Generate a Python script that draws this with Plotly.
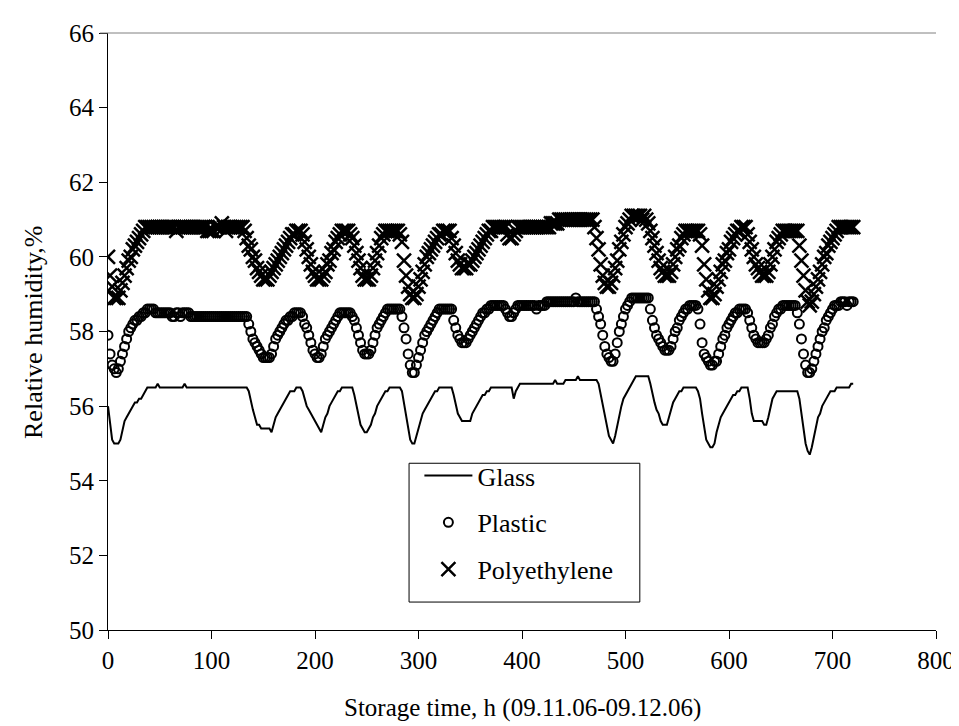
import plotly.graph_objects as go

# storage time, h (one reading every 2 h)
hours = list(range(0, 721, 2))

glass = [
    56.0, 55.5, 55.1, 55.0, 55.0, 55.0, 55.1, 55.4, 55.6, 55.7,
    55.8, 55.9, 56.0, 56.1, 56.1, 56.2, 56.2, 56.3, 56.4, 56.5,
    56.5, 56.5, 56.5, 56.5, 56.6, 56.5, 56.5, 56.5, 56.5, 56.5,
    56.5, 56.5, 56.5, 56.5, 56.5, 56.5, 56.5, 56.6, 56.5, 56.5,
    56.5, 56.5, 56.5, 56.5, 56.5, 56.5, 56.5, 56.5, 56.5, 56.5,
    56.5, 56.5, 56.5, 56.5, 56.5, 56.5, 56.5, 56.5, 56.5, 56.5,
    56.5, 56.5, 56.5, 56.5, 56.5, 56.5, 56.5, 56.5, 56.4, 56.1,
    55.9, 55.7, 55.5, 55.5, 55.4, 55.4, 55.4, 55.4, 55.4, 55.3,
    55.5, 55.7, 55.8, 55.9, 56.0, 56.1, 56.2, 56.3, 56.4, 56.4,
    56.4, 56.5, 56.5, 56.5, 56.4, 56.2, 56.0, 55.9, 55.8, 55.7,
    55.6, 55.5, 55.4, 55.3, 55.5, 55.7, 55.8, 56.0, 56.1, 56.2,
    56.3, 56.4, 56.4, 56.5, 56.5, 56.5, 56.5, 56.5, 56.5, 56.3,
    56.0, 55.7, 55.5, 55.4, 55.3, 55.3, 55.4, 55.5, 55.7, 55.8,
    56.0, 56.1, 56.2, 56.3, 56.4, 56.4, 56.5, 56.5, 56.5, 56.5,
    56.5, 56.5, 56.4, 56.1, 55.7, 55.4, 55.1, 55.0, 55.0, 55.2,
    55.4, 55.6, 55.8, 55.9, 56.0, 56.1, 56.2, 56.3, 56.4, 56.4,
    56.5, 56.5, 56.5, 56.5, 56.5, 56.5, 56.5, 56.3, 56.0, 55.8,
    55.7, 55.6, 55.6, 55.6, 55.6, 55.6, 55.8, 55.9, 56.0, 56.1,
    56.2, 56.3, 56.3, 56.4, 56.4, 56.5, 56.5, 56.5, 56.5, 56.5,
    56.5, 56.5, 56.5, 56.5, 56.5, 56.5, 56.2, 56.4, 56.5, 56.6,
    56.6, 56.6, 56.6, 56.6, 56.6, 56.6, 56.6, 56.6, 56.6, 56.6,
    56.6, 56.6, 56.6, 56.6, 56.6, 56.6, 56.7, 56.6, 56.6, 56.6,
    56.6, 56.7, 56.7, 56.7, 56.7, 56.7, 56.7, 56.8, 56.7, 56.7,
    56.7, 56.7, 56.7, 56.7, 56.7, 56.7, 56.7, 56.6, 56.3, 56.0,
    55.7, 55.4, 55.2, 55.1, 55.0, 55.2, 55.5, 55.8, 56.0, 56.2,
    56.3, 56.4, 56.5, 56.6, 56.7, 56.8, 56.8, 56.8, 56.8, 56.8,
    56.8, 56.8, 56.6, 56.3, 56.1, 55.9, 55.8, 55.6, 55.5, 55.5,
    55.5, 55.7, 55.9, 56.1, 56.2, 56.3, 56.4, 56.4, 56.5, 56.5,
    56.5, 56.5, 56.5, 56.5, 56.5, 56.4, 56.2, 55.8, 55.4, 55.1,
    55.0, 54.9, 54.9, 55.0, 55.3, 55.5, 55.7, 55.8, 55.9, 56.0,
    56.1, 56.2, 56.3, 56.3, 56.4, 56.4, 56.5, 56.5, 56.5, 56.5,
    56.2, 55.8, 55.6, 55.6, 55.6, 55.6, 55.6, 55.5, 55.5, 55.7,
    56.0, 56.2, 56.3, 56.4, 56.4, 56.4, 56.4, 56.4, 56.4, 56.4,
    56.4, 56.4, 56.4, 56.4, 56.2, 55.8, 55.4, 55.0, 54.8, 54.7,
    54.9, 55.2, 55.5, 55.7, 55.8, 56.0, 56.1, 56.2, 56.3, 56.4,
    56.4, 56.4, 56.5, 56.5, 56.5, 56.5, 56.5, 56.5, 56.5, 56.6,
    56.6,
]

plastic = [
    57.9, 57.4, 57.1, 57.0, 56.9, 57.0, 57.2, 57.4, 57.6, 57.8,
    58.0, 58.1, 58.2, 58.3, 58.3, 58.4, 58.4, 58.5, 58.5, 58.6,
    58.6, 58.6, 58.6, 58.5, 58.5, 58.5, 58.5, 58.5, 58.5, 58.5,
    58.5, 58.4, 58.4, 58.5, 58.5, 58.4, 58.5, 58.5, 58.5, 58.5,
    58.4, 58.4, 58.4, 58.4, 58.4, 58.4, 58.4, 58.4, 58.4, 58.4,
    58.4, 58.4, 58.4, 58.4, 58.4, 58.4, 58.4, 58.4, 58.4, 58.4,
    58.4, 58.4, 58.4, 58.4, 58.4, 58.4, 58.4, 58.4, 58.2, 58.0,
    57.8, 57.7, 57.6, 57.5, 57.4, 57.3, 57.3, 57.3, 57.3, 57.4,
    57.6, 57.8, 57.9, 58.0, 58.1, 58.2, 58.3, 58.3, 58.4, 58.4,
    58.5, 58.5, 58.5, 58.5, 58.4, 58.2, 58.1, 57.9, 57.7, 57.5,
    57.4, 57.3, 57.3, 57.4, 57.6, 57.8, 57.9, 58.0, 58.1, 58.2,
    58.3, 58.4, 58.5, 58.5, 58.5, 58.5, 58.5, 58.5, 58.4, 58.3,
    58.1, 57.9, 57.7, 57.5, 57.4, 57.4, 57.4, 57.5, 57.7, 57.9,
    58.1, 58.2, 58.3, 58.4, 58.5, 58.6, 58.6, 58.6, 58.6, 58.6,
    58.6, 58.6, 58.4, 58.1, 57.8, 57.4, 57.1, 56.9, 56.9, 57.1,
    57.3, 57.5, 57.7, 57.9, 58.0, 58.1, 58.2, 58.3, 58.4, 58.5,
    58.6, 58.6, 58.6, 58.6, 58.6, 58.6, 58.6, 58.3, 58.1, 57.9,
    57.8, 57.7, 57.7, 57.7, 57.8, 57.9, 58.0, 58.1, 58.2, 58.3,
    58.4, 58.5, 58.5, 58.6, 58.6, 58.7, 58.7, 58.7, 58.7, 58.7,
    58.7, 58.7, 58.6, 58.5, 58.4, 58.4, 58.5, 58.6, 58.7, 58.7,
    58.7, 58.7, 58.7, 58.7, 58.7, 58.7, 58.7, 58.6, 58.7, 58.7,
    58.7, 58.7, 58.8, 58.8, 58.8, 58.8, 58.8, 58.8, 58.8, 58.8,
    58.8, 58.8, 58.8, 58.8, 58.8, 58.8, 58.9, 58.8, 58.8, 58.8,
    58.8, 58.8, 58.8, 58.8, 58.8, 58.8, 58.6, 58.4, 58.2, 57.9,
    57.6, 57.4, 57.3, 57.2, 57.2, 57.4, 57.7, 58.0, 58.2, 58.4,
    58.6, 58.7, 58.8, 58.9, 58.9, 58.9, 58.9, 58.9, 58.9, 58.9,
    58.9, 58.9, 58.6, 58.3, 58.1, 57.9, 57.8, 57.7, 57.6, 57.5,
    57.5, 57.5, 57.6, 57.8, 58.0, 58.1, 58.3, 58.4, 58.5, 58.6,
    58.6, 58.7, 58.7, 58.7, 58.7, 58.6, 58.2, 57.7, 57.4, 57.3,
    57.2, 57.1, 57.1, 57.2, 57.2, 57.4, 57.6, 57.8, 57.9, 58.1,
    58.2, 58.3, 58.4, 58.5, 58.5, 58.6, 58.6, 58.6, 58.6, 58.5,
    58.3, 58.1, 57.9, 57.8, 57.7, 57.7, 57.7, 57.7, 57.8, 57.9,
    58.1, 58.2, 58.4, 58.5, 58.6, 58.6, 58.7, 58.7, 58.7, 58.7,
    58.7, 58.7, 58.7, 58.5, 58.2, 57.8, 57.4, 57.1, 56.9, 56.9,
    57.0, 57.2, 57.4, 57.6, 57.8, 58.0, 58.1, 58.3, 58.4, 58.5,
    58.6, 58.7, 58.7, 58.7, 58.8, 58.8, 58.8, 58.7, 58.8, 58.8,
    58.8,
]

polyethylene = [
    60.0, 59.5, 59.2, 58.9, 58.9, 58.9, 59.1, 59.3, 59.5, 59.7,
    59.9, 60.0, 60.2, 60.3, 60.4, 60.5, 60.6, 60.7, 60.8, 60.8,
    60.8, 60.8, 60.8, 60.8, 60.8, 60.8, 60.8, 60.8, 60.8, 60.8,
    60.8, 60.8, 60.8, 60.7, 60.8, 60.8, 60.8, 60.8, 60.8, 60.8,
    60.8, 60.8, 60.8, 60.8, 60.8, 60.8, 60.8, 60.8, 60.7, 60.7,
    60.7, 60.7, 60.8, 60.8, 60.8, 60.9, 60.8, 60.7, 60.8, 60.8,
    60.8, 60.8, 60.8, 60.8, 60.8, 60.8, 60.7, 60.5, 60.3, 60.2,
    60.0, 59.9, 59.7, 59.6, 59.5, 59.4, 59.4, 59.4, 59.5, 59.6,
    59.7, 59.8, 59.9, 60.0, 60.1, 60.2, 60.3, 60.4, 60.5, 60.6,
    60.6, 60.7, 60.7, 60.7, 60.6, 60.4, 60.2, 60.0, 59.8, 59.6,
    59.5, 59.4, 59.4, 59.4, 59.5, 59.6, 59.8, 59.9, 60.1, 60.2,
    60.4, 60.5, 60.6, 60.7, 60.7, 60.7, 60.7, 60.6, 60.5, 60.3,
    60.1, 59.9, 59.7, 59.5, 59.4, 59.4, 59.4, 59.5, 59.7, 59.9,
    60.1, 60.3, 60.5, 60.6, 60.7, 60.7, 60.7, 60.7, 60.7, 60.7,
    60.7, 60.6, 60.4, 59.9, 59.5, 59.2, 59.0, 58.9, 58.9, 59.0,
    59.2, 59.4, 59.6, 59.8, 60.0, 60.1, 60.2, 60.3, 60.4, 60.5,
    60.6, 60.6, 60.7, 60.7, 60.7, 60.7, 60.5, 60.3, 60.1, 59.9,
    59.8, 59.7, 59.7, 59.7, 59.8, 59.8, 59.9, 60.0, 60.1, 60.2,
    60.3, 60.4, 60.5, 60.6, 60.7, 60.7, 60.8, 60.8, 60.8, 60.8,
    60.8, 60.8, 60.8, 60.6, 60.5, 60.5, 60.6, 60.7, 60.8, 60.8,
    60.8, 60.8, 60.8, 60.8, 60.8, 60.8, 60.8, 60.8, 60.8, 60.8,
    60.8, 60.8, 60.8, 60.8, 60.9, 60.9, 60.9, 60.9, 61.0, 61.0,
    61.0, 61.0, 61.0, 61.0, 61.0, 61.0, 61.0, 61.0, 61.0, 61.0,
    61.0, 61.0, 61.0, 61.0, 61.0, 60.8, 60.5, 60.2, 59.8, 59.5,
    59.3, 59.2, 59.2, 59.3, 59.5, 59.7, 59.9, 60.2, 60.4, 60.6,
    60.8, 60.9, 61.0, 61.1, 61.1, 61.1, 61.1, 61.1, 61.0, 61.1,
    61.0, 60.9, 60.7, 60.5, 60.3, 60.1, 59.9, 59.7, 59.6, 59.5,
    59.5, 59.5, 59.6, 59.8, 60.0, 60.2, 60.3, 60.5, 60.6, 60.7,
    60.7, 60.7, 60.7, 60.7, 60.7, 60.7, 60.6, 60.3, 59.8, 59.4,
    59.1, 58.9, 58.9, 59.0, 59.2, 59.4, 59.6, 59.8, 59.9, 60.1,
    60.2, 60.4, 60.5, 60.6, 60.7, 60.7, 60.8, 60.8, 60.8, 60.6,
    60.4, 60.2, 60.0, 59.8, 59.7, 59.6, 59.5, 59.5, 59.5, 59.6,
    59.8, 60.0, 60.2, 60.4, 60.5, 60.6, 60.7, 60.7, 60.7, 60.7,
    60.7, 60.7, 60.7, 60.7, 60.3, 59.9, 59.5, 59.1, 58.8, 58.7,
    58.8, 59.0, 59.2, 59.4, 59.6, 59.8, 60.0, 60.1, 60.3, 60.4,
    60.5, 60.6, 60.7, 60.8, 60.8, 60.8, 60.8, 60.8, 60.8, 60.8,
    60.8,
]

FONT = "Times New Roman, Liberation Serif, serif"

fig = go.Figure()

fig.add_trace(go.Scatter(
    x=hours, y=glass, name="Glass", mode="lines",
    line=dict(color="black", width=2),
    legendgroup="g1",
))
fig.add_trace(go.Scatter(
    x=hours, y=plastic, name="Plastic", mode="markers",
    marker=dict(symbol="circle-open", size=9, color="black", line=dict(width=2)),
    legendgroup="g2",
))
fig.add_trace(go.Scatter(
    x=hours, y=polyethylene, name="Polyethylene", mode="markers",
    marker=dict(symbol="x-thin-open", size=14, color="black", line=dict(width=2.5)),
    legendgroup="g3",
))

fig.update_layout(
    width=959, height=726,
    margin=dict(l=100, r=23, t=24, b=104),
    paper_bgcolor="white", plot_bgcolor="white",
    font=dict(family=FONT, size=25, color="black"),
    showlegend=True,
    legend=dict(
        x=0.364, y=0.298, xanchor="left", yanchor="top",
        borderwidth=0, bgcolor="rgba(0,0,0,0)",
        font=dict(family=FONT, size=26, color="black"),
        tracegroupgap=10, itemwidth=48, indentation=10,
    ),
    shapes=[
        # grey frame line along the top of the plot area
        dict(type="line", xref="paper", yref="paper",
             x0=-0.0096, x1=1, y0=1, y1=1,
             line=dict(color="#808080", width=1)),
        # legend box
        dict(type="rect", xref="paper", yref="paper",
             x0=0.3636, x1=0.6423, y0=0.0468, y1=0.2793,
             line=dict(color="black", width=1), fillcolor="white",
             layer="below"),
    ],
    annotations=[
        dict(text="Relative humidity,%", xref="paper", yref="paper",
             x=-0.09, y=0.5, xanchor="center", yanchor="middle",
             textangle=-90, showarrow=False,
             font=dict(family=FONT, size=26, color="black")),
        dict(text="Storage time, h (09.11.06-09.12.06)", xref="paper", yref="paper",
             x=0.5, y=-0.1304, xanchor="center", yanchor="middle", showarrow=False,
             font=dict(family=FONT, size=25, color="black")),
    ],
)

fig.update_xaxes(
    range=[0, 800], dtick=100, tick0=0,
    showline=True, linecolor="black", linewidth=1,
    ticks="outside", ticklen=8, tickcolor="black",
    showgrid=False, zeroline=False,
)
fig.update_yaxes(
    range=[50, 66], dtick=2, tick0=50,
    showline=True, linecolor="black", linewidth=1,
    ticks="outside", ticklen=8, tickcolor="black",
    showgrid=False, zeroline=False,
)

fig.write_html("out.html")
